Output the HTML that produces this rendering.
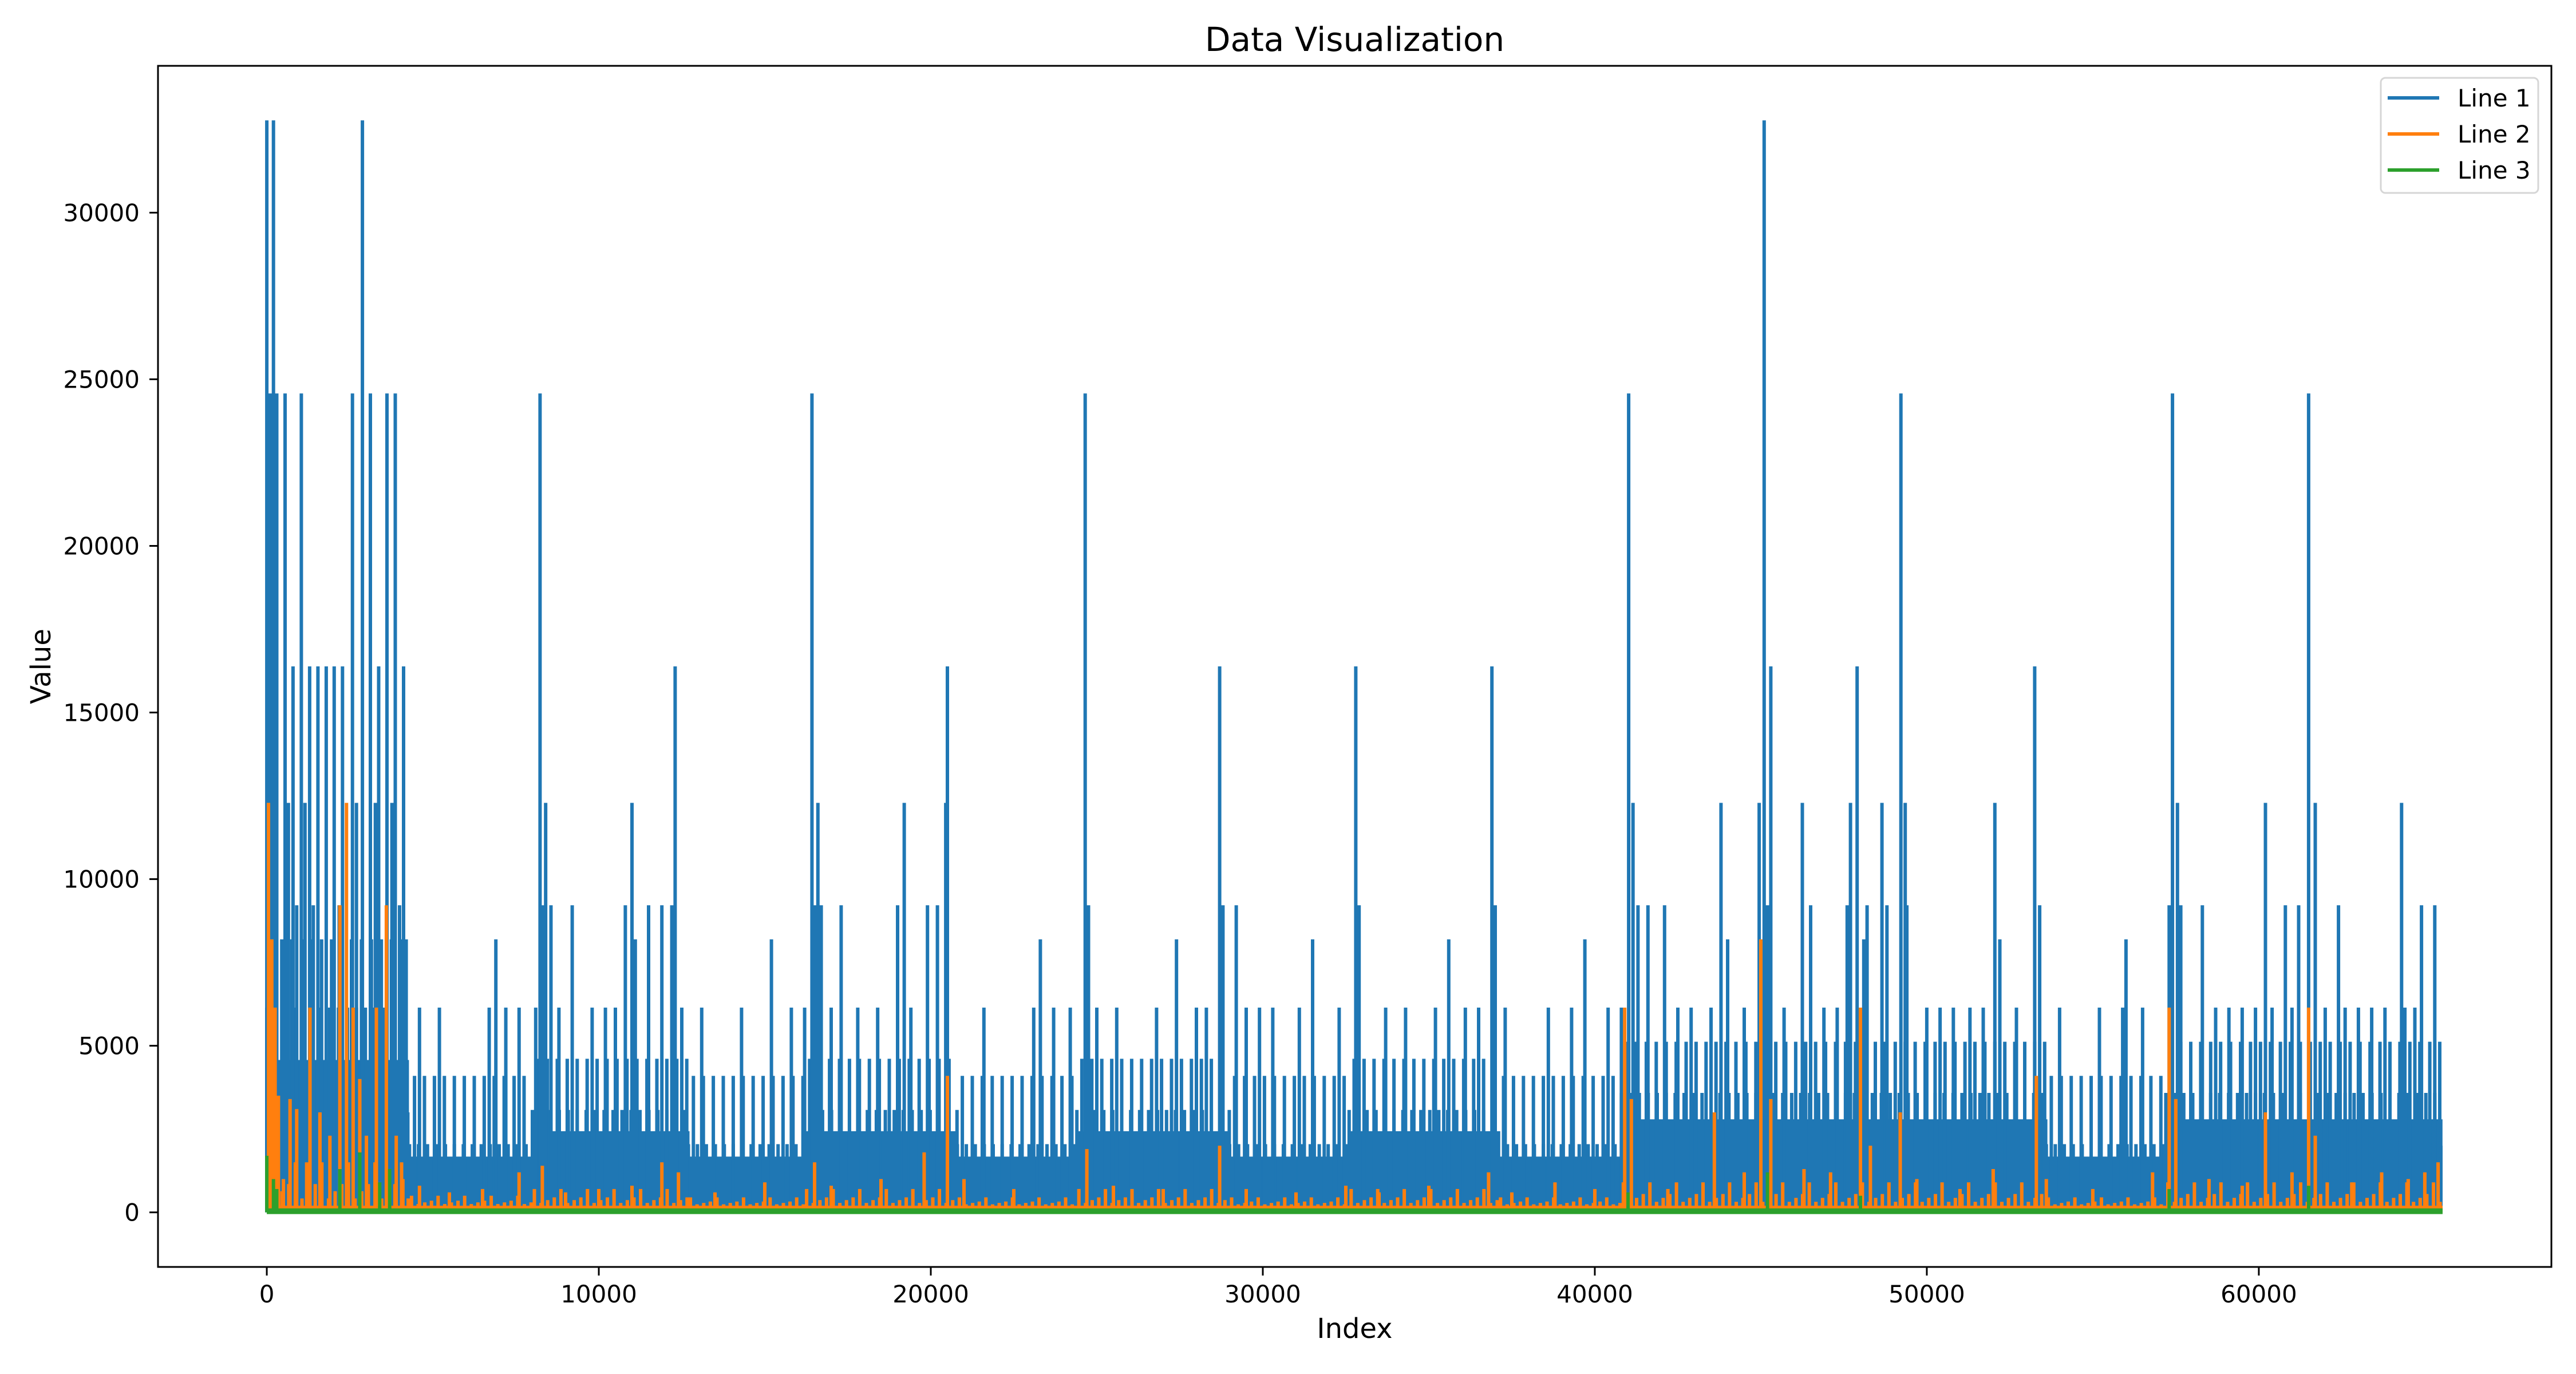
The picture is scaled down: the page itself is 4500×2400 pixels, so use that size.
<!DOCTYPE html>
<html><head><meta charset="utf-8"><style>
html,body{margin:0;padding:0;background:#fff;}
svg{display:block;font-family:"DejaVu Sans","Liberation Sans",sans-serif;}
</style></head><body>
<svg id="chart" width="4500" height="2400" viewBox="0 0 4500 2400" xmlns="http://www.w3.org/2000/svg">
<rect width="4500" height="2400" fill="#fff"/>
<g id="plot"></g>
<g id="axes"></g>
</svg>
<script>
// ---- data ----
const xTicks = [0, 10000, 20000, 30000, 40000, 50000, 60000];
const yTicks = [0, 5000, 10000, 15000, 20000, 25000, 30000];
const seriesNames = ["Line 1", "Line 2", "Line 3"];
const xMaxIndex = 65535;
const line1Peak32768 = [0, 200, 2880, 45100];
const line1Peak24576 = [100, 300, 550, 1040, 2580, 3120, 3620, 3870, 8230, 16420, 24650, 41020, 49220, 57400, 61500];
const line1Peak16384 = [50, 790, 1290, 1540, 1790, 2030, 2280, 3370, 4120, 12300, 20500, 28700, 32800, 36900, 45300, 47900, 53250];
const line1Peak12288 = [650, 1150, 2700, 3270, 3770, 8400, 11000, 16600, 19200, 20450, 41150, 43800, 44950, 46250, 47700, 48650, 49350, 52050, 57550, 60200, 61700, 64300];
const line1Peak9216 = [900, 1400, 2180, 4000, 8330, 8560, 9200, 10800, 11500, 11900, 12200, 16500, 16700, 17300, 19000, 19900, 20200, 24750, 28800, 29200, 32900, 37000, 41300, 41600, 42100, 45200, 46500, 47600, 48200, 48800, 49400, 53400, 57300, 57650, 58300, 60800, 61200, 61700, 62400, 64900, 65300];
const line1Peak8192 = [4200, 6900, 11100, 15200, 23300, 27400, 31500, 35600, 39700, 44000, 48100, 52200, 56000];
const line1Peak6144 = [4600, 5200, 6700, 7200, 7600, 8100, 8800, 9800, 10200, 10500, 12500, 13100, 14300, 15800, 16200, 17000, 17800, 18400, 19400, 21600, 23100, 23700, 24200, 25000, 25600, 26800, 28000, 28300, 29500, 29900, 30300, 31100, 32300, 33700, 34300, 35200, 36100, 36500, 37300, 38600, 39300, 40400, 40800, 42500, 42900, 43500, 44500, 45700, 46900, 47300, 50000, 50400, 50800, 51300, 51700, 52700, 54000, 55200, 55900, 56500, 58700, 59100, 59500, 59900, 60400, 61000, 62000, 62600, 63000, 63400, 63800, 64400, 64700];
// band segments: start index, end index, solid top, dense comb top, sparse comb top
const line1BandStart  = [0, 4300, 8000, 12700, 16200, 20800, 24400, 29000, 32600, 37100, 40800, 53600, 57200];
const line1BandEnd    = [4300, 8000, 12700, 16200, 20800, 24400, 29000, 32600, 37100, 40800, 53600, 57200, 65535];
const line1BandSolid  = [3000, 1300, 1800, 1300, 1800, 1300, 1800, 1300, 1800, 1300, 2000, 1300, 2000];
const line1BandDense  = [6144, 2048, 3072, 2048, 3072, 2048, 3072, 2048, 3072, 2048, 3584, 2048, 3584];
const line1BandSparse = [8192, 4096, 4608, 4096, 4608, 4096, 4608, 4096, 4608, 4096, 5120, 4096, 5120];
const line2CombTop = [1500, 500, 700, 450, 700, 450, 700, 450, 700, 450, 900, 450, 900];
const line2SpikeIdx = [50,150,250,350,500,700,900,1200,1300,1600,1900,2200,2400,2600,2800,3000,3300,3600,3900,4100,4600,5500,6500,7600,8300,9000,10000,11000,11900,12400,13500,15000,16500,17000,18500,19800,20500,21000,22500,24700,25500,27000,28700,29500,31000,32500,33500,35000,36800,37500,38800,40000,40900,41100,42200,43600,44500,45000,45300,46300,47100,48000,48300,49200,49700,51000,52000,53300,53600,55000,56800,57300,57500,58500,59500,60200,61000,61500,61700,62800,63700,64500,65000,65400];
const line2SpikeVal = [12288,8192,6144,3500,1000,3400,3100,1500,6144,3000,2300,9216,12288,6144,4000,2300,6144,9216,2300,1000,800,600,700,1200,1400,600,700,800,1500,1200,600,900,1500,800,1000,1800,4096,1000,700,1900,800,700,2000,700,600,800,600,800,1200,600,900,700,6144,3400,700,3000,1200,8192,3400,1300,1200,6144,2000,3000,1000,700,1300,4096,1000,700,1200,6144,3400,1000,800,3000,1200,6144,2300,900,1200,1000,1200,1500];
const line2Base = 200;
const line3SpikeIdx = [0,200,300,2200,2800,3400,3700,41000,45200,48000,57300,61500];
const line3SpikeVal = [1700,1000,700,1300,1800,900,1300,600,1200,500,700,800];
const line3Base = 120;

// ---- layout ----
const L = 276, R = 4457, T = 115, B = 2213;
const xMin = -3277, xMax = 68812, yMin = -1638, yMax = 34406;
const xs = v => L + (v - xMin) / (xMax - xMin) * (R - L);
const ys = v => B - (v - yMin) / (yMax - yMin) * (B - T);
const colors = ["#1f77b4", "#ff7f0e", "#2ca02c"];
const NS = "http://www.w3.org/2000/svg";
const plot = document.getElementById("plot");
const axes = document.getElementById("axes");
function mk(tag, attrs, parent) {
  const e = document.createElementNS(NS, tag);
  for (const k in attrs) e.setAttribute(k, attrs[k]);
  parent.appendChild(e);
  return e;
}

// ---- line 1 ----
let d1 = "", denseD = "", sparseD = "";
for (let i = 0; i < line1BandStart.length; i++) {
  const x0 = xs(line1BandStart[i]), x1 = xs(line1BandEnd[i]);
  d1 += `M${x0},${ys(0)}H${x1}V${ys(line1BandSolid[i])}H${x0}Z`;
  let k = 0;
  for (let v = line1BandStart[i]; v <= line1BandEnd[i]; v += 90, k++) {
    const top = (k % 3 === 0) ? line1BandDense[i] : (line1BandSolid[i] + line1BandDense[i]) / 2;
    denseD += `M${xs(v).toFixed(1)},${ys(0)}V${ys(top).toFixed(1)}`;
  }
  for (let v = line1BandStart[i] + 150; v <= line1BandEnd[i]; v += 300) {
    sparseD += `M${xs(v).toFixed(1)},${ys(0)}V${ys(line1BandSparse[i]).toFixed(1)}`;
  }
}
const peaks = [[line1Peak6144, 6144], [line1Peak8192, 8192], [line1Peak9216, 9216], [line1Peak12288, 12288], [line1Peak16384, 16384], [line1Peak24576, 24576], [line1Peak32768, 32768]];
let spikeD = "";
peaks.forEach(([arr, val]) => arr.forEach(ix => { spikeD += `M${xs(ix).toFixed(1)},${ys(0)}V${ys(val).toFixed(1)}`; }));
const g1 = mk("g", {}, plot);


mk("path", {d: d1, fill: colors[0]}, g1);
mk("path", {d: denseD, stroke: colors[0], "stroke-width": 6, fill: "none"}, g1);
mk("path", {d: sparseD, stroke: colors[0], "stroke-width": 6, fill: "none"}, g1);
mk("path", {d: spikeD, stroke: colors[0], "stroke-width": 6, fill: "none"}, g1);

// ---- line 2 ----
const g2 = mk("g", {}, plot);


mk("rect", {x: xs(0), y: ys(line2Base), width: xs(xMaxIndex) - xs(0), height: ys(0) - ys(line2Base), fill: colors[1]}, g2);
let c2 = "";
for (let i = 0; i < line1BandStart.length; i++) {
  let k = 0;
  for (let v = line1BandStart[i] + 60; v <= line1BandEnd[i]; v += 200, k++) {
    const top = (k % 4 === 0) ? line2CombTop[i] : line2Base + (line2CombTop[i] - line2Base) * ((k % 4) / 6);
    c2 += `M${xs(v).toFixed(1)},${ys(0)}V${ys(top).toFixed(1)}`;
  }
}
mk("path", {d: c2, stroke: colors[1], "stroke-width": 6, fill: "none"}, g2);
let d2 = "";
line2SpikeIdx.forEach((ix, i) => { d2 += `M${xs(ix).toFixed(1)},${ys(0)}V${ys(line2SpikeVal[i]).toFixed(1)}`; });
mk("path", {d: d2, stroke: colors[1], "stroke-width": 6, fill: "none"}, g2);

// ---- line 3 ----
const g3 = mk("g", {}, plot);


mk("rect", {x: xs(0), y: ys(line3Base), width: xs(xMaxIndex) - xs(0), height: ys(0) - ys(line3Base) + 3, fill: colors[2]}, g3);
let d3 = "";
line3SpikeIdx.forEach((ix, i) => { d3 += `M${xs(ix).toFixed(1)},${ys(0)}V${ys(line3SpikeVal[i]).toFixed(1)}`; });
mk("path", {d: d3, stroke: colors[2], "stroke-width": 6, fill: "none"}, g3);

// ---- axes frame ----
const frame = mk("rect", {x: L, y: T, width: R - L, height: B - T, fill: "none", stroke: "#000", "stroke-width": 3}, axes);


xTicks.forEach(v => {
  const x = xs(v);
  const t = mk("line", {x1: x, x2: x, y1: B, y2: B + 15, stroke: "#000", "stroke-width": 3}, axes);
  
  
  const lb = mk("text", {x: x, y: B + 62, "text-anchor": "middle", "font-size": 42, fill: "#000"}, axes);
  lb.textContent = String(v);
  
  
});
yTicks.forEach(v => {
  const y = ys(v);
  const t = mk("line", {x1: L - 15, x2: L, y1: y, y2: y, stroke: "#000", "stroke-width": 3}, axes);
  
  
  const lb = mk("text", {x: L - 32, y: y + 15, "text-anchor": "end", "font-size": 42, fill: "#000"}, axes);
  lb.textContent = String(v);
  
  
});
const title = mk("text", {x: (L + R) / 2, y: 89, "text-anchor": "middle", "font-size": 58, fill: "#000"}, axes);
title.textContent = "Data Visualization";


const xl = mk("text", {x: (L + R) / 2, y: 2337, "text-anchor": "middle", "font-size": 48, fill: "#000"}, axes);
xl.textContent = "Index";


const yl = mk("text", {x: 0, y: 0, "text-anchor": "middle", "font-size": 48, fill: "#000", transform: `translate(88,${(T + B) / 2}) rotate(-90)`}, axes);
yl.textContent = "Value";



// ---- legend ----
const lg = mk("g", {}, axes);


mk("rect", {x: 4159, y: 136, width: 275, height: 201, rx: 8, fill: "#fff", "fill-opacity": 0.8, stroke: "#d6d6d6", "stroke-width": 3}, lg);
seriesNames.forEach((n, i) => {
  const y = 171 + i * 63;
  const e = mk("g", {}, lg);
  
  
  mk("line", {x1: 4171, x2: 4261, y1: y, y2: y, stroke: colors[i], "stroke-width": 6}, e);
  const t = mk("text", {x: 4293, y: y + 15, "font-size": 42, fill: "#000"}, e);
  t.textContent = n;
});
</script>
</body></html>
